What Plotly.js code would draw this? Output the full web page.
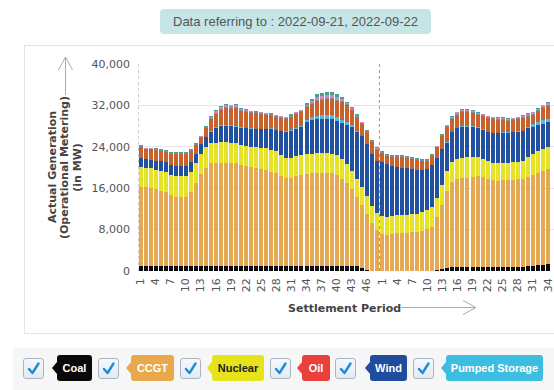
<!DOCTYPE html>
<html>
<head>
<meta charset="utf-8">
<script src="https://cdn.plot.ly/plotly-3.0.1.min.js"></script>
<style>
  html, body { margin:0; padding:0; background:#fff; }
  body { width:554px; height:390px; overflow:hidden; position:relative; font-family:"Liberation Sans", Arial, sans-serif; }
  #panel { position:absolute; left:24px; top:45px; width:620px; height:287px; border:1px solid #e4e4e4; background:#fff; }
  #badge { position:absolute; left:160px; top:9px; width:271px; height:25px; line-height:25px; background:#C6E5E7; border-radius:4px; color:#555; font-size:13px; text-align:center; }
  #chart { position:absolute; left:0; top:0; width:554px; height:390px; }
  #arrows { position:absolute; left:0; top:0; width:554px; height:390px; pointer-events:none; }
  #legend { position:absolute; left:13px; top:348px; width:600px; height:45px; background:#F6F6F6; }
  .cb { position:absolute; top:358px; width:19px; height:19px; border:1px solid #A9B6C2; border-radius:3px; background:linear-gradient(#F5F8FB,#E3EBF1); box-sizing:content-box; }
  .cb svg { position:absolute; left:0; top:0; }
  .tag { position:absolute; top:355px; height:26px; line-height:26px; border-radius:3px; color:#fff; font-weight:bold; font-size:11px; text-align:center; font-family:"Liberation Sans", Arial, sans-serif; }
  .tag:before { content:""; position:absolute; left:-5px; top:7px; border-top:6px solid transparent; border-bottom:6px solid transparent; border-right:5px solid var(--c); }
</style>
</head>
<body>
<div id="panel"></div>
<div id="badge">Data referring to : 2022-09-21, 2022-09-22</div>
<div id="chart"></div>
<svg id="arrows" width="554" height="390">
  <g stroke="#ABABAB" stroke-width="1" fill="none">
    <line x1="65.5" y1="58" x2="65.5" y2="95"/>
    <polyline points="58.5,70 65.5,57 72.5,70"/>
    <line x1="401" y1="307.5" x2="476" y2="307.5"/>
    <polyline points="463,300.5 476,307.5 463,314.5"/>
  </g>
</svg>
<div id="legend"></div>

<div class="cb" style="left:23px"><svg width="19" height="19"><path d="M5 10 L8.5 14 L14.5 4.5" stroke="#1B8ED3" stroke-width="2.4" fill="none" stroke-linecap="round" stroke-linejoin="round"/></svg></div>
<div class="tag" style="left:57px;width:35px;background:#0a0a0a;--c:#0a0a0a">Coal</div>
<div class="cb" style="left:98px"><svg width="19" height="19"><path d="M5 10 L8.5 14 L14.5 4.5" stroke="#1B8ED3" stroke-width="2.4" fill="none" stroke-linecap="round" stroke-linejoin="round"/></svg></div>
<div class="tag" style="left:131px;width:43px;background:#E8A84C;--c:#E8A84C">CCGT</div>
<div class="cb" style="left:180px"><svg width="19" height="19"><path d="M5 10 L8.5 14 L14.5 4.5" stroke="#1B8ED3" stroke-width="2.4" fill="none" stroke-linecap="round" stroke-linejoin="round"/></svg></div>
<div class="tag" style="left:212px;width:52px;background:#E6E31C;--c:#E6E31C;color:#222">Nuclear</div>
<div class="cb" style="left:270px"><svg width="19" height="19"><path d="M5 10 L8.5 14 L14.5 4.5" stroke="#1B8ED3" stroke-width="2.4" fill="none" stroke-linecap="round" stroke-linejoin="round"/></svg></div>
<div class="tag" style="left:302px;width:28px;background:#E8403A;--c:#E8403A">Oil</div>
<div class="cb" style="left:335px"><svg width="19" height="19"><path d="M5 10 L8.5 14 L14.5 4.5" stroke="#1B8ED3" stroke-width="2.4" fill="none" stroke-linecap="round" stroke-linejoin="round"/></svg></div>
<div class="tag" style="left:370px;width:37px;background:#1F4C9C;--c:#1F4C9C">Wind</div>
<div class="cb" style="left:413px"><svg width="19" height="19"><path d="M5 10 L8.5 14 L14.5 4.5" stroke="#1B8ED3" stroke-width="2.4" fill="none" stroke-linecap="round" stroke-linejoin="round"/></svg></div>
<div class="tag" style="left:446px;width:97px;background:#3DBDE0;--c:#3DBDE0">Pumped Storage</div>

<script>
// ---- data (MW), settlement periods of 2022-09-21 (1-48) then 2022-09-22 (1-34) ----
const dates = ['2022-09-21', '2022-09-22'];
const periods = [1,2,3,4,5,6,7,8,9,10,11,12,13,14,15,16,17,18,19,20,21,22,23,24,25,26,27,28,29,30,31,32,33,34,35,36,37,38,39,40,41,42,43,44,45,46,47,48,
                 1,2,3,4,5,6,7,8,9,10,11,12,13,14,15,16,17,18,19,20,21,22,23,24,25,26,27,28,29,30,31,32,33,34];

const coal = [1000,1000,1000,990,990,980,980,980,980,980,990,1000,1000,1000,1000,1000,1000,1000,1000,1000,1000,1000,
              1000,1000,1000,1000,1000,1000,1000,1000,1000,1000,1000,1000,1000,1000,1000,1000,1000,1000,1000,1000,1000,
              950,600,250,60,0,
              0,0,0,0,0,0,0,0,0,0,0,
              100,350,600,750,800,800,800,800,800,800,800,800,800,800,
              850,850,850,850,
              950,1050,1150,1250,1300];
const ccgt = [15300,15200,15100,14800,14500,14300,13700,13400,13300,13400,14200,16000,17800,19000,
              19800,19900,19950,19950,19900,19800,19500,19300,19100,18900,18700,18500,18200,17900,
              17300,16900,17000,17300,17500,17700,17850,17900,17900,17900,17850,17600,16800,16000,
              14800,13350,12200,10750,9140,8000,
              7100,7000,7200,7300,7300,7300,7500,7600,7800,8100,8600,
              10400,12450,14900,16450,17000,17100,17200,17400,17500,17300,17000,
              16700,16600,16700,16650,16750,16850,16950,17250,17450,17750,18050,18500];
const nuclear = [3850,3800,3800,3800,3800,3800,3900,4000,4000,4000,3900,3900,3900,3900,
                 3900,3900,3900,3900,3900,3900,3900,3850,3900,4000,4100,4200,4200,4300,
                 4100,3900,3900,3900,3900,3900,3850,3850,3850,3850,3850,3800,3800,3600,
                 3600,3400,3500,3500,3400,3300,
                 3500,3500,3500,3500,3500,3500,3500,3500,3600,3600,3700,
                 3700,3800,3800,3800,3900,4000,4000,3900,3700,3600,3500,
                 3400,3400,3400,3400,3400,3400,3500,3800,4200,4300,4200,4100];
const oil = [0,0,0,0,0,0,0,0,0,0,0,0,0,0,0,0,0,0,0,0,0,0,0,0,0,0,0,0,0,0,0,0,0,0,0,0,0,0,0,0,0,
             0,0,0,0,0,0,0,0,0,0,0,0,0,0,0,0,0,0,0,0,0,0,0,0,0,0,0,0,0,0,0,0,0,0,0,0,0,0,0,0,0];
const wind = [1620,1600,1600,1700,1900,1900,1900,1900,2000,2000,2000,1700,1800,1900,
              2200,2800,3150,3150,3200,3200,3300,3450,3500,3500,3600,3700,4100,4000,
              4600,5100,5200,5300,5500,6200,6500,6550,6650,6650,6700,6600,7000,7700,
              8500,9100,9700,10100,10000,10000,
              10400,10100,9600,9300,9200,9100,8700,8500,8200,8000,8100,
              7600,6900,5500,5800,5900,6000,5900,5700,5600,5500,5500,
              5700,5800,5800,5800,5800,5800,5700,5600,5200,5000,5000,4900];
const pumpedStorage = [0,0,0,0,0,0,0,0,0,0,0,0,0,0,
                       100,150,150,150,150,150,150,
                       100,100,100,100,100,100,100,100,100,100,100,100,
                       400,600,700,700,700,700,700,500,400,300,200,100,
                       0,0,0,0,0,0,0,0,0,0,0,0,0,0,0,
                       100,100,100,100,
                       150,150,150,150,150,150,150,150,150,150,150,150,150,
                       300,450,500,600,650];
const biomass = [2180,1900,2000,2100,2000,2000,2200,2300,2300,2300,2100,1800,1300,1800,
                 2450,2650,2950,3350,3250,3450,3100,3050,2850,2950,2850,2650,2450,2450,
                 2450,2350,2650,2750,2750,2400,2500,2900,3000,3100,3200,3200,3600,3300,
                 2850,2850,2300,2200,2300,2150,
                 1800,1700,1800,1900,2000,1900,1900,1800,1700,1600,1800,
                 2100,2500,2950,2400,2500,2650,2650,2550,2450,2550,2550,
                 2550,2450,2350,2150,2150,2250,2450,1950,1800,2150,2350,2500];
const hydro = [150,150,150,150,150,150,150,150,150,150,150,150,150,150,
               200,200,200,200,200,200,200,200,200,200,200,200,200,200,200,200,200,200,200,200,200,200,200,200,200,200,200,200,200,200,200,200,200,200,
               150,150,150,150,150,150,150,150,150,150,150,150,150,
               200,200,200,200,200,200,200,200,200,200,200,200,200,200,200,200,200,200,200,200,200];
const other = [50,50,50,50,50,50,50,50,50,50,50,50,50,50,
               150,400,400,400,400,400,250,250,250,
               150,150,150,150,150,150,150,150,150,150,
               300,400,600,600,600,600,600,400,300,200,
               100,100,100,100,100,
               50,50,50,50,50,50,50,50,50,50,50,50,50,
               150,300,300,300,300,300,
               200,200,200,200,200,200,200,200,200,200,
               350,350,350,350,350];
const ocgt = [150,150,150,150,150,150,150,150,150,150,150,150,150,150,
              100,100,100,100,100,100,100,100,100,100,100,100,100,100,100,100,100,100,100,
              300,400,500,500,500,500,500,300,200,
              150,150,150,150,150,150,150,150,150,150,150,150,150,150,150,150,150,150,150,
              100,100,100,100,100,100,100,100,100,100,100,100,100,100,100,100,100,100,100,100,100];

const yTicks = [0, 8000, 16000, 24000, 32000, 40000];

// category keys (one per settlement period)
const keys = [];
let d = 0;
periods.forEach((p, i) => { if (i > 0 && p === 1) d++; keys.push(dates[d] + ' P' + p); });

const series = [
  ['Coal', coal, '#0a0a0a'],
  ['CCGT', ccgt, '#E4A952'],
  ['Nuclear', nuclear, '#E6E228'],
  ['Oil', oil, '#E8413B'],
  ['Wind', wind, '#2150A0'],
  ['Pumped Storage', pumpedStorage, '#58B5E2'],
  ['Biomass', biomass, '#C8622C'],
  ['Non Pumped Hydro', hydro, '#7F8FA0'],
  ['Other', other, '#C58CC6'],
  ['OCGT', ocgt, '#4E9C8E']
];

const traces = series.map(([name, vals, col]) => ({
  type: 'bar', name: name, x: keys, y: vals,
  marker: { color: col, line: { width: 0 } },
  showlegend: false
}));

const tickKeys = keys.filter((k, i) => i % 3 === 0);
const tickText = periods.filter((p, i) => i % 3 === 0).map(String);
const boundary = periods.findIndex((p, i) => i > 0 && p === 1) - 0.5;

const tf = { family: 'DejaVu Sans, Verdana, sans-serif', size: 11, color: '#555' };
const titleFont = { family: 'DejaVu Sans, Verdana, sans-serif', size: 11, color: '#444', weight: 'bold' };

const layout = {
  width: 554, height: 390,
  margin: { l: 138, r: 0, t: 64, b: 119 },
  paper_bgcolor: 'rgba(0,0,0,0)', plot_bgcolor: 'rgba(0,0,0,0)',
  barmode: 'stack', bargap: 0.2,
  xaxis: {
    type: 'category', range: [-0.5, 82.2],
    tickmode: 'array', tickvals: tickKeys, ticktext: tickText,
    tickangle: -90, tickfont: tf, showgrid: false, zeroline: false, showline: false,
    ticks: '', ticklabelstandoff: 4, fixedrange: true
  },
  yaxis: {
    range: [0, 40000], tickmode: 'array', tickvals: yTicks, tickformat: ',',
    tickfont: tf, gridcolor: '#E6E6E6', gridwidth: 1, zeroline: false, showline: false,
    ticks: '', ticklabelstandoff: 7, fixedrange: true
  },
  shapes: [
    { type: 'line', xref: 'x', yref: 'paper', x0: -0.5, x1: -0.5, y0: 0, y1: 1, line: { color: '#9A9A9A', width: 1, dash: 'dot' } },
    { type: 'line', xref: 'x', yref: 'paper', x0: boundary, x1: boundary, y0: 0, y1: 1, line: { color: '#9A9A9A', width: 1, dash: 'dot' } }
  ],
  annotations: [
    { text: 'Actual Generation', xref: 'paper', yref: 'paper', x: -0.2055, y: 0.5, xanchor: 'center', yanchor: 'middle', textangle: -90, showarrow: false, font: titleFont },
    { text: '(Operational Metering)', xref: 'paper', yref: 'paper', x: -0.1765, y: 0.5, xanchor: 'center', yanchor: 'middle', textangle: -90, showarrow: false, font: titleFont },
    { text: '(in MW)', xref: 'paper', yref: 'paper', x: -0.146, y: 0.5, xanchor: 'center', yanchor: 'middle', textangle: -90, showarrow: false, font: titleFont },
    { text: 'Settlement Period', xref: 'paper', yref: 'paper', x: 0.497, y: -0.179, xanchor: 'center', yanchor: 'middle', showarrow: false, font: titleFont }
  ]
};

Plotly.newPlot('chart', traces, layout, { staticPlot: true, displayModeBar: false });
</script>
</body>
</html>
